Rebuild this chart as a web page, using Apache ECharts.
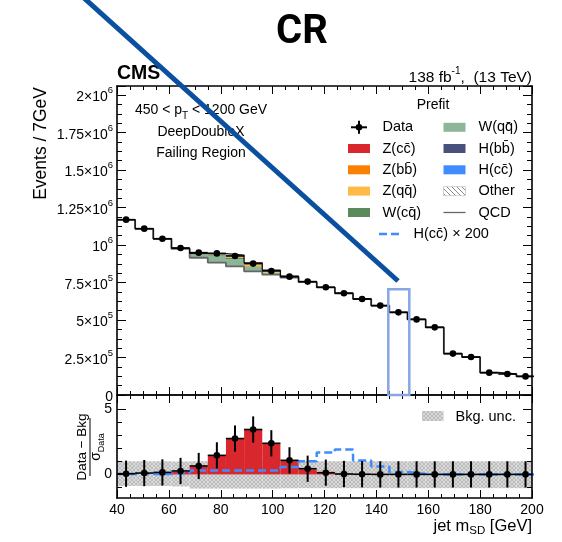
<!DOCTYPE html>
<html>
<head>
<meta charset="utf-8">
<script src="https://cdn.jsdelivr.net/npm/echarts@6/dist/echarts.min.js"></script>
<style>
html, body { margin: 0; padding: 0; background: #fff; }
#chart { width: 562px; height: 542px; }
</style>
</head>
<body>
<div id="chart"></div>
<script>
// jet mSD bins (7 GeV wide, 40 - 201)
var binCenters = [43.5, 50.5, 57.5, 64.5, 71.5, 78.5, 85.5, 92.5, 99.5, 106.5, 113.5, 120.5,
                  127.5, 134.5, 141.5, 148.5, 155.5, 162.5, 169.5, 176.5, 183.5, 190.5, 197.5];
var BIN_W = 7, X_MIN = 40, X_MAX = 200;

// top panel, events per bin
var dataEvents = [1169000, 1109000, 1042000, 980000, 949000, 944000, 927000, 876000, 827000, 789000, 756000, 718000,
                  678000, 640000, 596000, 551000, 504000, 451000, 276000, 253000, 149000, 140000, 124000];
var qcd   = [1168000, 1108000, 1041000, 974000, 915000, 883000, 857000, 824000, 802000, 783000, 752000, 717500,
             677600, 639600, 595500, 550600, 503700, 450700, 275800, 252800, 148800, 139800, 123900];
var other = [800, 800, 700, 700, 600, 600, 600, 500, 500, 500, 500, 400, 400, 400, 400, 300, 300, 300, 200, 200, 200, 200, 100];
var hcc   = [0, 0, 0, 0, 0, 0, 0, 0, 0, 0, 0, 0, 100, 100, 0, 0, 0, 0, 0, 0, 0, 0, 0];
var hbb   = [0, 0, 0, 0, 0, 0, 0, 0, 0, 0, 0, 100, 100, 0, 0, 0, 0, 0, 0, 0, 0, 0, 0];
var wqq   = [0, 0, 0, 4000, 20000, 45000, 48000, 26000, 9000, 2000, 1000, 0, 0, 0, 0, 0, 0, 0, 0, 0, 0, 0, 0];
var wcq   = [0, 0, 0, 1000, 6000, 9000, 11000, 7000, 4000, 1000, 0, 0, 0, 0, 0, 0, 0, 0, 0, 0, 0, 0, 0];
var zqq   = [0, 0, 0, 0, 2000, 3000, 12000, 17000, 12000, 4000, 2000, 0, 0, 0, 0, 0, 0, 0, 0, 0, 0, 0, 0];
var zbb   = [0, 0, 0, 0, 0, 1000, 2000, 3000, 2000, 1000, 0, 0, 0, 0, 0, 0, 0, 0, 0, 0, 0, 0, 0];
var zcc   = [0, 0, 0, 0, 1000, 1000, 2000, 4000, 3000, 1000, 0, 0, 0, 0, 0, 0, 0, 0, 0, 0, 0, 0, 0];

// bottom panel, (Data - Bkg) / sigma_Data
var pullData   = [0.05, 0.10, 0.15, 0.26, 0.64, 1.45, 2.73, 3.42, 2.37, 1.07, 0.43, 0.13, 0.03, 0.01, 0, 0, 0, 0, 0, 0, 0, 0, 0];
var pullZcc    = [0, 0, 0, 0.20, 0.62, 1.45, 2.73, 3.42, 2.37, 1.03, 0.38, 0.12, 0.03, 0, 0, 0, 0, 0, 0, 0, 0, 0, 0];
var pullHcc200 = [0.02, 0.02, 0.03, 0.08, 0.30, 0.30, 0.30, 0.30, 0.30, 0.56, 1.00, 1.66, 1.89, 1.05, 0.61, 0.18, 0.03, 0, 0, 0, 0, 0, 0];
var uncUp      = [1.0, 1.0, 1.0, 0.98, 1.0, 1.0, 1.0, 1.0, 1.0, 1.0, 1.0, 1.0, 1.0, 1.0, 1.0, 1.0, 1.0, 1.0, 1.0, 1.0, 1.0, 1.0, 1.0];
var uncDown    = [-0.88, -0.88, -0.88, -0.92, -1.08, -1.08, -1.08, -1.08, -1.08, -1.06, -1.05, -1.05, -1.05, -1.05, -1.05,
                  -1.05, -1.05, -1.05, -1.05, -1.05, -1.05, -1.05, -1.05];

// tick labels of the event axis (mantissa + exponent)
var yTickMant = ['0', '2.5\u00d710', '5\u00d710', '7.5\u00d710', '10', '1.25\u00d710', '1.5\u00d710', '1.75\u00d710', '2\u00d710'];
var yTickExp  = ['', '5', '5', '5', '6', '6', '6', '6', '6'];

var legendCol1 = ['Data', 'Z(cc\u0304)', 'Z(bb\u0304)', 'Z(qq\u0304)', 'W(cq\u0304)'];
var legendCol2 = ['W(qq\u0304)', 'H(bb\u0304)', 'H(cc\u0304)', 'Other', 'QCD'];

var FONT = "'Liberation Sans', Arial, Helvetica, sans-serif";
var COL = {
    zcc: '#d8282d', zbb: '#f98000', zqq: '#fdbb45', wcq: '#5b8b5d',
    wqq: '#8db597', hbb: '#48517c', hcc: '#3f8cff', qcd: '#666666'
};

function makePattern(bg, fg, size, dirs) {
    var cv = document.createElement('canvas');
    cv.width = size; cv.height = size;
    var ctx = cv.getContext('2d');
    ctx.fillStyle = bg;
    ctx.fillRect(0, 0, size, size);
    ctx.strokeStyle = fg;
    ctx.lineWidth = 1;
    ctx.beginPath();
    if (dirs.indexOf('\\') >= 0) { ctx.moveTo(0, 0); ctx.lineTo(size, size); }
    if (dirs.indexOf('/') >= 0) { ctx.moveTo(0, size); ctx.lineTo(size, 0); }
    ctx.stroke();
    return { image: cv, repeat: 'repeat' };
}
var uncPattern = makePattern('#d8d8d8', '#bcbcbc', 4, '\\/');
var otherPattern = makePattern('#ffffff', '#8a8a8a', 5, '\\');

// ---- helpers ----
function fillSeries(lo, hi, fill, xi, yi) {
    return {
        type: 'custom', xAxisIndex: xi, yAxisIndex: yi, silent: true, z: 2,
        data: binCenters.map(function(c, i) { return [c, lo[i], hi[i]]; }),
        renderItem: function(params, api) {
            var c = api.value(0);
            var a = api.coord([c - BIN_W / 2, api.value(2)]);
            var b = api.coord([Math.min(c + BIN_W / 2, X_MAX), api.value(1)]);
            return {
                type: 'rect',
                shape: { x: a[0], y: Math.min(a[1], b[1]), width: b[0] - a[0], height: Math.abs(b[1] - a[1]) },
                style: { fill: fill }
            };
        }
    };
}

function stepSeries(vals, color, width, xi, yi, dash, z) {
    var d = binCenters.map(function(c, i) { return [c - BIN_W / 2, vals[i]]; });
    d.push([binCenters[binCenters.length - 1] + BIN_W / 2, vals[vals.length - 1]]);
    return {
        type: 'line', xAxisIndex: xi, yAxisIndex: yi, step: 'end', symbol: 'none', silent: true, z: z || 3,
        data: d,
        lineStyle: { color: color, width: width, type: dash || 'solid' }
    };
}

function pointSeries(vals, xi, yi, withErr) {
    return {
        type: 'custom', xAxisIndex: xi, yAxisIndex: yi, silent: true, z: 6,
        data: binCenters.map(function(c, i) { return [c, vals[i]]; }),
        renderItem: function(params, api) {
            var c = api.value(0), v = api.value(1);
            var pl = api.coord([c - BIN_W / 2, v]);
            var pr = api.coord([Math.min(c + BIN_W / 2, X_MAX), v]);
            var pc = api.coord([c, v]);
            var ch = [
                { type: 'line', shape: { x1: pl[0], y1: pl[1], x2: pr[0], y2: pr[1] }, style: { stroke: '#000', lineWidth: 1.6 } }
            ];
            if (withErr) {
                var pt = api.coord([c, v + 1]), pb = api.coord([c, v - 1]);
                ch.push({ type: 'line', shape: { x1: pt[0], y1: pt[1], x2: pb[0], y2: pb[1] }, style: { stroke: '#000', lineWidth: 2 } });
            }
            ch.push({ type: 'circle', shape: { cx: pc[0], cy: pc[1], r: 3.3 }, style: { fill: '#000' } });
            return { type: 'group', children: ch };
        }
    };
}

function xAx(grid, pos, labels) {
    return {
        type: 'value', gridIndex: grid, position: pos, min: X_MIN, max: X_MAX, interval: 20, z: 10,
        axisLine: { show: true, onZero: false, lineStyle: { color: grid === 0 && pos === 'bottom' ? '#1d2a55' : '#000', width: 1.6 } },
        axisTick: { show: true, inside: true, length: 8, lineStyle: { color: '#000', width: 1 } },
        minorTick: { show: true, splitNumber: 4, length: 4, lineStyle: { color: '#000', width: 1 } },
        axisLabel: { show: labels, color: '#000', fontSize: 14, fontFamily: FONT, margin: 5 },
        splitLine: { show: false }, minorSplitLine: { show: false }
    };
}

function yMain(pos, labels) {
    return {
        type: 'value', gridIndex: 0, position: pos, min: 0, max: 2060000, interval: 250000, z: 10,
        axisLine: { show: true, onZero: false, lineStyle: { color: '#000', width: 1.6 } },
        axisTick: { show: true, inside: true, length: 9, lineStyle: { color: '#000', width: 1 } },
        minorTick: { show: true, splitNumber: 4, length: 5, lineStyle: { color: '#000', width: 1 } },
        splitLine: { show: false }, minorSplitLine: { show: false },
        axisLabel: {
            show: labels, margin: 4, showMaxLabel: false,
            formatter: function(v) {
                var i = Math.round(v / 250000);
                if (Math.abs(v - i * 250000) > 1 || i >= yTickMant.length) return '';
                return yTickExp[i] ? '{b|' + yTickMant[i] + '}{s|' + yTickExp[i] + '}' : '{b|' + yTickMant[i] + '}';
            },
            rich: {
                b: { fontSize: 14, lineHeight: 19, verticalAlign: 'bottom', fontFamily: FONT, color: '#000' },
                s: { fontSize: 9.5, lineHeight: 9, verticalAlign: 'top', fontFamily: FONT, color: '#000' }
            }
        }
    };
}

function yRatio(pos, major) {
    return {
        type: 'value', gridIndex: 1, position: pos, min: -1.8, max: 6.05, z: 10,
        axisLine: { show: major, onZero: false, lineStyle: { color: '#000', width: 1.6 } },
        axisTick: { show: true, inside: true, length: major ? 9 : 5, customValues: major ? [0, 5] : [-1, 1, 2, 3, 4],
                    lineStyle: { color: '#000', width: 1 } },
        axisLabel: { show: major && pos === 'left', customValues: [0, 5], color: '#000', fontSize: 14, fontFamily: FONT, margin: 5 },
        splitLine: { show: false }
    };
}

// stack the MC components on top of QCD
var layers = [
    { values: other, fill: otherPattern },
    { values: hcc, fill: COL.hcc },
    { values: hbb, fill: COL.hbb },
    { values: wqq, fill: COL.wqq },
    { values: wcq, fill: COL.wcq },
    { values: zqq, fill: COL.zqq },
    { values: zbb, fill: COL.zbb },
    { values: zcc, fill: COL.zcc }
];
var series = [];
var base = qcd.slice();
layers.forEach(function(l) {
    var top = base.map(function(b, i) { return b + l.values[i]; });
    series.push(fillSeries(base, top, l.fill, 0, 0));
    base = top;
});
var total = base;
series.push(stepSeries(qcd, COL.qcd, 1.8, 0, 0));
series.push(stepSeries(total, '#111', 1.3, 0, 0, null, 4));
series.push(pointSeries(dataEvents, 0, 0, false));

var zeros = binCenters.map(function() { return 0; });
series.push(fillSeries(uncDown, uncUp, uncPattern, 2, 2));
series.push(fillSeries(zeros, pullZcc, COL.zcc, 2, 2));
series.push(stepSeries(pullHcc200, COL.hcc, 2.5, 2, 2, [8, 4], 5));
series.push(pointSeries(pullData, 2, 2, true));

var chart = echarts.init(document.getElementById('chart'));
chart.setOption({
    animation: false,
    backgroundColor: '#fff',
    grid: [
        { left: 117, top: 86, width: 415, height: 309 },
        { left: 117, top: 395, width: 415, height: 103 }
    ],
    xAxis: [xAx(0, 'bottom', false), xAx(0, 'top', false), xAx(1, 'bottom', true), xAx(1, 'top', false)],
    yAxis: [yMain('left', true), yMain('right', false),
            yRatio('left', true), yRatio('left', false), yRatio('right', true), yRatio('right', false)],
    series: series
});

// ---- texts, legend, annotations ----
function txt(x, y, text, size, align, extra) {
    var el = { type: 'text', x: x, y: y, z: 50,
        style: { text: text, fontSize: size, fontFamily: FONT, fill: '#000', align: align || 'left', verticalAlign: 'middle' } };
    if (extra) {
        for (var k in extra) {
            if (k === 'rotation') el.rotation = extra[k];
            else el.style[k] = extra[k];
        }
    }
    return el;
}
function box(x, y, fill) {
    return { type: 'rect', z: 50, shape: { x: x, y: y - 4.5, width: 22, height: 9 }, style: { fill: fill } };
}

var g = [];
g.push(txt(302, 33, 'CR', 40, 'center', { fontFamily: 'Roboto, ' + FONT, fontWeight: 'bold' }));
g.push(txt(117, 74, 'CMS', 19.5, 'left', { fontWeight: 'bold' }));
g.push(txt(532, 76, '{a|138 fb}{s|-1}{a|,  (13 TeV)}', 15, 'right', {
    rich: { a: { fontSize: 15.5, lineHeight: 19, verticalAlign: 'bottom', fontFamily: FONT }, s: { fontSize: 10, lineHeight: 9, verticalAlign: 'top', fontFamily: FONT } } }));
g.push(txt(41.5, 87, 'Events / 7GeV', 17.5, 'right', { rotation: Math.PI / 2 }));
g.push(txt(201, 112, '{a|450 < p}{s|T}{a| < 1200 GeV}', 14, 'center', {
    rich: { a: { fontSize: 14, lineHeight: 18, verticalAlign: 'top', fontFamily: FONT }, s: { fontSize: 10, lineHeight: 10, verticalAlign: 'bottom', fontFamily: FONT } } }));
g.push(txt(201, 132, 'DeepDoubleX', 14, 'center'));
g.push(txt(201, 153.5, 'Failing Region', 14, 'center'));

// legend
g.push(txt(433, 105.5, 'Prefit', 14, 'center'));
var rows = [127.3, 148.5, 169.8, 191.1, 212.5];
g.push({ type: 'line', z: 50, shape: { x1: 351, y1: rows[0], x2: 367, y2: rows[0] }, style: { stroke: '#000', lineWidth: 2 } });
g.push({ type: 'line', z: 50, shape: { x1: 359, y1: rows[0] - 6.5, x2: 359, y2: rows[0] + 6.5 }, style: { stroke: '#000', lineWidth: 2 } });
g.push({ type: 'circle', z: 50, shape: { cx: 359, cy: rows[0], r: 3.3 }, style: { fill: '#000' } });
var col1Fill = [null, COL.zcc, COL.zbb, COL.zqq, COL.wcq];
var col2Fill = [COL.wqq, COL.hbb, COL.hcc, otherPattern, null];
legendCol1.forEach(function(name, i) {
    if (col1Fill[i]) g.push(box(348, rows[i], col1Fill[i]));
    g.push(txt(382.5, rows[i], name, 14.5, 'left'));
});
legendCol2.forEach(function(name, i) {
    if (col2Fill[i]) g.push(box(443.5, rows[i], col2Fill[i]));
    g.push(txt(478.5, rows[i], name, 14.5, 'left'));
});
g.push({ type: 'rect', z: 50, shape: { x: 443.5, y: rows[3] - 4.5, width: 22, height: 9 }, style: { fill: null, stroke: '#bbb', lineWidth: 0.6 } });
g.push({ type: 'line', z: 50, shape: { x1: 443.5, y1: rows[4], x2: 465.5, y2: rows[4] }, style: { stroke: COL.qcd, lineWidth: 1.3 } });
g.push({ type: 'line', z: 50, shape: { x1: 379, y1: 234, x2: 400, y2: 234 }, style: { stroke: COL.hcc, lineWidth: 2.5, lineDash: [8, 4] } });
g.push(txt(413.5, 234, 'H(cc\u0304) \u00d7 200', 14.5, 'left'));

// ratio panel legend & labels
g.push({ type: 'rect', z: 50, shape: { x: 422, y: 411, width: 21.5, height: 10 }, style: { fill: uncPattern } });
g.push(txt(455.5, 416.5, 'Bkg. unc.', 14.5, 'left'));
g.push(txt(82.5, 447, 'Data \u2212 Bkg', 13.5, 'center', { rotation: Math.PI / 2 }));
g.push({ type: 'line', z: 50, shape: { x1: 90, y1: 418, x2: 90, y2: 476 }, style: { stroke: '#000', lineWidth: 1 } });
g.push(txt(98, 447, '{a|\u03c3}{s|Data}', 13, 'center', {
    rotation: Math.PI / 2,
    rich: { a: { fontSize: 14, lineHeight: 17, verticalAlign: 'top', fontFamily: FONT }, s: { fontSize: 9, lineHeight: 9, verticalAlign: 'bottom', fontFamily: FONT } } }));
g.push(txt(532, 527, '{a|jet m}{s|SD}{a| [GeV]}', 16.5, 'right', {
    rich: { a: { fontSize: 16.5, lineHeight: 19, verticalAlign: 'top', fontFamily: FONT }, s: { fontSize: 11.5, lineHeight: 12, verticalAlign: 'bottom', fontFamily: FONT } } }));

// highlight box around one bin + slide arrow line
var hiliteFrom = 144.6, hiliteTo = 152.7, hiliteTop = 705000;
var pa = chart.convertToPixel({ xAxisIndex: 0, yAxisIndex: 0 }, [hiliteFrom, hiliteTop]);
var pb = chart.convertToPixel({ xAxisIndex: 0, yAxisIndex: 0 }, [hiliteTo, 0]);
g.push({ type: 'rect', z: 90, shape: { x: pa[0], y: pa[1], width: pb[0] - pa[0], height: pb[1] - pa[1] },
         style: { fill: null, stroke: '#87a6e2', lineWidth: 2.5 } });
g.push({ type: 'line', z: 95, shape: { x1: 84, y1: -2, x2: 398, y2: 281 },
         style: { stroke: '#0b50a0', lineWidth: 5 } });

chart.setOption({ graphic: g });
</script>
</body>
</html>
